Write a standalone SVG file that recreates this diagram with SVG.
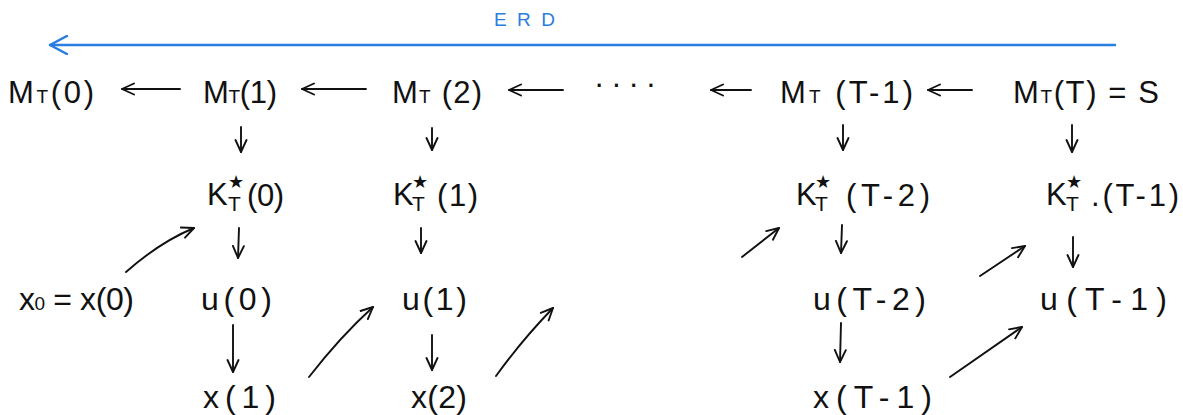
<svg xmlns="http://www.w3.org/2000/svg" width="1183" height="415" viewBox="0 0 1183 415">
<style>
  text { font-family: "Liberation Sans", "DejaVu Sans", sans-serif; fill: #111; }
  .lbl { font-size: 31px; }
  .low { font-size: 32px; }
  .sub { font-size: 19px; }
  .ks { font-size: 21px; }
  .star { font-size: 18px; }
  .erd { font-size: 19px; fill: #2a7de1; }
  .conn { stroke: #111; stroke-width: 1.9; fill: none; stroke-linecap: round; marker-end: url(#ah); }
  .blue { stroke: #2a7de1; stroke-width: 2.5; fill: none; stroke-linecap: round; marker-end: url(#bh); }
</style>
<defs>
  <marker id="ah" viewBox="0 0 14 14" refX="13" refY="7" markerWidth="14" markerHeight="14" orient="auto" markerUnits="userSpaceOnUse">
    <path d="M1,1.5 L13,7 L1,12.5" fill="none" stroke="#111" stroke-width="1.9" stroke-linecap="round" stroke-linejoin="round"/>
  </marker>
  <marker id="bh" viewBox="0 0 20 20" refX="19" refY="10" markerWidth="20" markerHeight="20" orient="auto" markerUnits="userSpaceOnUse">
    <path d="M2,1 L19,10 L2,19" fill="none" stroke="#2a7de1" stroke-width="2.5" stroke-linecap="round" stroke-linejoin="round"/>
  </marker>
</defs>
<rect width="1183" height="415" fill="#ffffff"/>

<g id="erd">
  <text class="erd" x="494" y="26" textLength="61" lengthAdjust="spacing">ERD</text>
</g>

<g id="connectors">
  <line class="blue" x1="1115" y1="45" x2="50" y2="45"/>
  <!-- top row -->
  <line class="conn" x1="180" y1="89" x2="122" y2="89"/>
  <line class="conn" x1="366" y1="89" x2="302" y2="89"/>
  <line class="conn" x1="563" y1="90" x2="509" y2="90"/>
  <line class="conn" x1="751" y1="90" x2="711" y2="90"/>
  <line class="conn" x1="972" y1="90" x2="928" y2="90"/>
  <!-- M to K -->
  <line class="conn" x1="241" y1="127" x2="241" y2="152"/>
  <line class="conn" x1="432" y1="128" x2="432" y2="150"/>
  <line class="conn" x1="843" y1="125" x2="843" y2="150"/>
  <line class="conn" x1="1072" y1="125" x2="1072" y2="152"/>
  <!-- K to u -->
  <line class="conn" x1="239" y1="228" x2="238" y2="258"/>
  <line class="conn" x1="421" y1="228" x2="421" y2="253"/>
  <line class="conn" x1="842" y1="225" x2="841" y2="253"/>
  <line class="conn" x1="1073" y1="237" x2="1073" y2="267"/>
  <!-- u to x -->
  <line class="conn" x1="233" y1="325" x2="233" y2="372"/>
  <line class="conn" x1="432" y1="335" x2="432" y2="370"/>
  <line class="conn" x1="841" y1="323" x2="840" y2="362"/>
  <!-- diagonals -->
  <path class="conn" d="M126,272 Q160,242 194,228"/>
  <path class="conn" d="M309,377 Q340,337 373,307"/>
  <path class="conn" d="M496,376 Q522,340 553,308"/>
  <line class="conn" x1="742" y1="257" x2="779" y2="228"/>
  <line class="conn" x1="980" y1="276" x2="1025" y2="246"/>
  <line class="conn" x1="950" y1="377" x2="1022" y2="327"/>
</g>

<g id="m0"><text class="lbl" x="8" y="103" textLength="86" lengthAdjust="spacing">M<tspan class="sub">T</tspan>(0)</text></g>
<g id="m1"><text class="lbl" x="203" y="103" textLength="74" lengthAdjust="spacing">M<tspan class="sub">T</tspan>(1)</text></g>
<g id="m2"><text class="lbl" x="392" y="103" textLength="90" lengthAdjust="spacing">M<tspan class="sub">T</tspan> (2)</text></g>
<g id="dots"><text class="lbl" x="594" y="94" textLength="62" lengthAdjust="spacing">····</text></g>
<g id="mT1"><text class="lbl" x="780" y="103" textLength="133" lengthAdjust="spacing">M<tspan class="sub">T</tspan> (T-1)</text></g>
<g id="mT"><text class="lbl" x="1013" y="103" textLength="146" lengthAdjust="spacing">M<tspan class="sub">T</tspan>(T) = S</text></g>

<g id="k0">
  <text class="lbl" x="207" y="205">K</text>
  <text class="star" x="228" y="188">★</text>
  <text class="ks" x="228" y="211">T</text>
  <text class="lbl" x="247" y="206" textLength="37" lengthAdjust="spacing">(0)</text>
</g>
<g id="k1">
  <text class="lbl" x="393" y="205">K</text>
  <text class="star" x="412" y="188">★</text>
  <text class="ks" x="412" y="211">T</text>
  <text class="lbl" x="437" y="206" textLength="41" lengthAdjust="spacing">(1)</text>
</g>
<g id="kT2">
  <text class="lbl" x="796" y="205">K</text>
  <text class="star" x="815" y="188">★</text>
  <text class="ks" x="815" y="211">T</text>
  <text class="lbl" x="846" y="206" textLength="84" lengthAdjust="spacing">(T-2)</text>
</g>
<g id="kT1">
  <text class="lbl" x="1046" y="205">K</text>
  <text class="star" x="1066" y="188">★</text>
  <text class="ks" x="1066" y="211">T</text>
  <text class="lbl" x="1091" y="206" textLength="88" lengthAdjust="spacing">.(T-1)</text>
</g>

<g id="x0"><text class="low" x="19" y="310" textLength="115" lengthAdjust="spacing">x<tspan class="sub">0</tspan> = x(0)</text></g>
<g id="u0"><text class="low" x="201" y="310" textLength="71" lengthAdjust="spacing">u(0)</text></g>
<g id="u1"><text class="low" x="402" y="310" textLength="65" lengthAdjust="spacing">u(1)</text></g>
<g id="uT2"><text class="low" x="813" y="310" textLength="113" lengthAdjust="spacing">u(T-2)</text></g>
<g id="uT1"><text class="low" x="1040" y="310" textLength="127" lengthAdjust="spacing">u(T-1)</text></g>

<g id="x1"><text class="low" x="203" y="408" textLength="73" lengthAdjust="spacing">x(1)</text></g>
<g id="x2"><text class="low" x="411" y="408" textLength="56" lengthAdjust="spacing">x(2)</text></g>
<g id="xT1"><text class="low" x="813" y="408" textLength="119" lengthAdjust="spacing">x(T-1)</text></g>
</svg>
